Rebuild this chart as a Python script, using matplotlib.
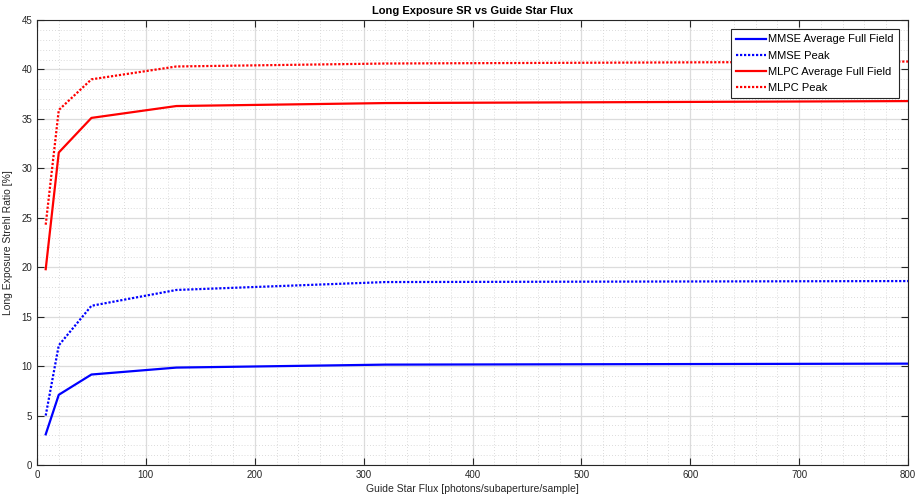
import matplotlib
matplotlib.use("Agg")
import matplotlib.pyplot as plt
from matplotlib.ticker import MultipleLocator

# guide star flux levels and long exposure Strehl ratios [%]
flux = [8, 20, 50, 128, 320, 800]
mmse_avg = [3.1, 7.1, 9.15, 9.85, 10.15, 10.25]
mmse_peak = [5.0, 12.1, 16.1, 17.7, 18.5, 18.6]
mlpc_avg = [19.8, 31.6, 35.1, 36.3, 36.6, 36.8]
mlpc_peak = [24.3, 35.9, 39.0, 40.3, 40.6, 40.8]

plt.rcParams['font.family'] = ['Liberation Sans', 'DejaVu Sans']

fig = plt.figure(figsize=(9.17, 5.0), dpi=100)
ax = fig.add_axes([37 / 917, 35 / 500, 871 / 917, 445 / 500])

dot = (0, (1, 0.8))
ax.plot(flux, mmse_avg, color='#0000ff', lw=1.6, label='MMSE Average Full Field')
ax.plot(flux, mmse_peak, color='#0000ff', lw=1.6, ls=dot, label='MMSE Peak')
ax.plot(flux, mlpc_avg, color='#ff0000', lw=1.6, label='MLPC Average Full Field')
ax.plot(flux, mlpc_peak, color='#ff0000', lw=1.6, ls=dot, label='MLPC Peak')

ax.set_xlim(0, 800)
ax.set_ylim(0, 45)
ax.xaxis.set_major_locator(MultipleLocator(100))
ax.xaxis.set_minor_locator(MultipleLocator(20))
ax.yaxis.set_major_locator(MultipleLocator(5))
ax.yaxis.set_minor_locator(MultipleLocator(1))

ax.grid(which='major', color='#dcdcdc', lw=0.9, ls='-')
ax.grid(which='minor', color='#cfcfcf', lw=0.6, ls=(0, (1, 2.5)))
ax.set_axisbelow(True)

ax.tick_params(which='both', direction='in', top=True, right=True,
               labelsize=7, colors='#262626')
ax.tick_params(which='major', length=5, width=0.8)
ax.tick_params(which='minor', length=0)
for s in ax.spines.values():
    s.set_color('#262626')
    s.set_linewidth(0.8)

ax.set_title('Long Exposure SR vs Guide Star Flux', fontsize=8, fontweight='bold', pad=4)
ax.set_xlabel('Guide Star Flux [photons/subaperture/sample]', fontsize=7.5, color='#262626', labelpad=3)
ax.set_ylabel('Long Exposure Strehl Ratio [%]', fontsize=7.5, color='#262626', labelpad=6)

leg = ax.legend(loc='upper right', fontsize=8, fancybox=False, framealpha=1,
                edgecolor='#262626', borderaxespad=0.85, handlelength=2.7,
                handletextpad=0.2, labelspacing=0.55, borderpad=0.45)
leg.get_frame().set_linewidth(0.8)

fig.savefig('out.png', dpi=100)
